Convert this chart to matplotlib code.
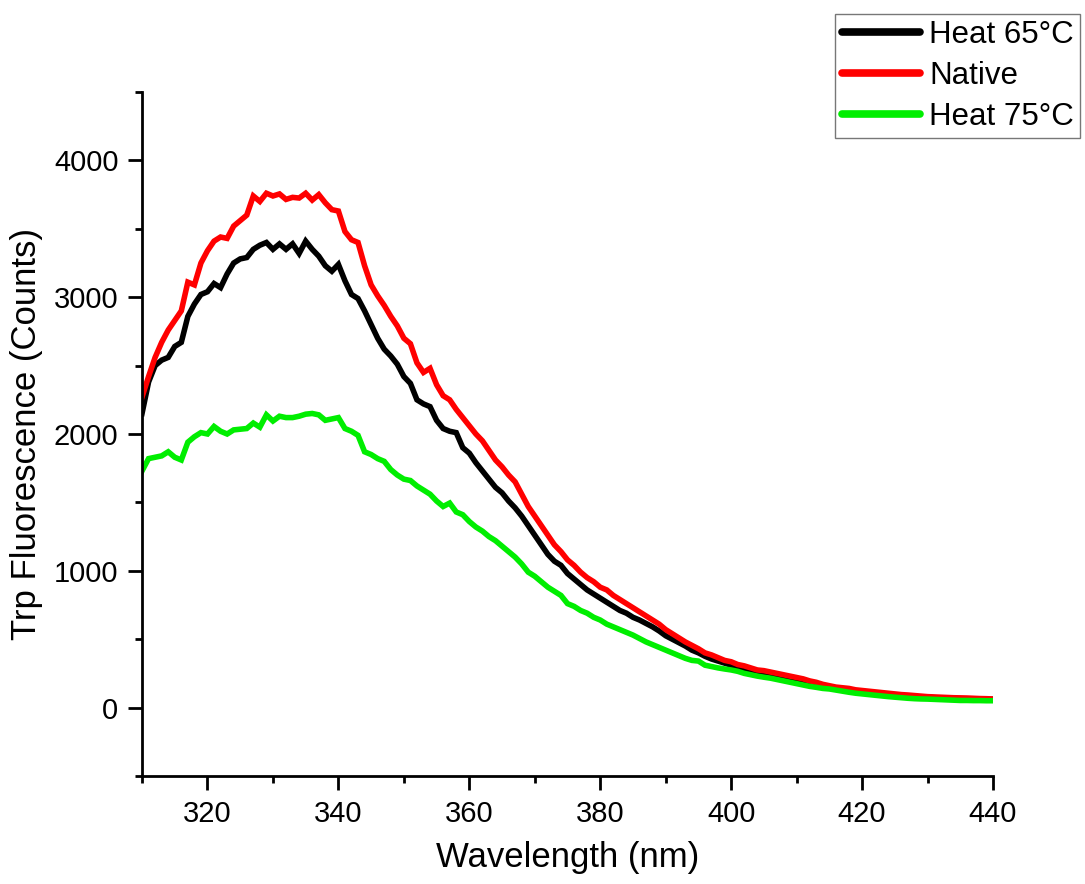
import matplotlib
matplotlib.use("Agg")
import matplotlib.pyplot as plt
from matplotlib.ticker import MultipleLocator

plt.rcParams['font.family'] = ['Liberation Sans', 'DejaVu Sans']

wavelength = list(range(310, 441))

heat65 = [2150, 2380, 2500, 2540, 2560, 2640, 2670, 2860, 2950, 3020,
          3040, 3100, 3070, 3170, 3250, 3280, 3290, 3350, 3380, 3400,
          3350, 3390, 3350, 3390, 3320, 3410, 3350, 3300, 3230, 3190,
          3240, 3120, 3020, 2990, 2900, 2800, 2700, 2620, 2570, 2510,
          2420, 2370, 2250, 2220, 2200, 2100, 2040, 2020, 2010, 1900,
          1860, 1790, 1730, 1670, 1610, 1570, 1510, 1460, 1400, 1330,
          1260, 1190, 1120, 1070, 1040, 980, 940, 900, 860, 830,
          800, 770, 740, 710, 690, 660, 640, 615, 590, 560,
          525, 500, 475, 450, 420, 400, 375, 355, 340, 325,
          310, 295, 285, 270, 260, 250, 245, 235, 225, 215,
          205, 195, 185, 170, 160, 150, 140, 135, 128, 120,
          115, 110, 105, 100, 96, 92, 88, 84, 80, 78,
          75, 72, 70, 68, 66, 65, 64, 62, 61, 60, 60]

native = [2270, 2420, 2560, 2670, 2760, 2830, 2900, 3110, 3090, 3250,
          3340, 3410, 3440, 3430, 3520, 3560, 3600, 3740, 3700, 3760,
          3740, 3755, 3715, 3730, 3725, 3760, 3710, 3750, 3690, 3640,
          3630, 3480, 3420, 3400, 3230, 3090, 3010, 2940, 2860, 2790,
          2700, 2660, 2520, 2450, 2480, 2360, 2280, 2250, 2180, 2120,
          2060, 2000, 1950, 1880, 1810, 1760, 1700, 1650, 1560, 1470,
          1400, 1330, 1260, 1190, 1140, 1080, 1040, 990, 950, 920,
          880, 860, 820, 790, 760, 730, 700, 670, 640, 610,
          570, 540, 510, 480, 455, 430, 400, 385, 365, 345,
          335, 315, 305, 290, 275, 270, 260, 250, 240, 230,
          220, 210, 195, 185, 170, 160, 150, 145, 140, 130,
          125, 120, 115, 110, 105, 100, 95, 92, 88, 84,
          80, 78, 76, 74, 72, 71, 70, 68, 66, 65, 63]

heat75 = [1730, 1820, 1830, 1840, 1870, 1830, 1810, 1940, 1980, 2010,
          2000, 2055, 2020, 2000, 2030, 2035, 2040, 2080, 2050, 2140,
          2095, 2130, 2120, 2120, 2130, 2145, 2150, 2140, 2100, 2110,
          2120, 2040, 2020, 1990, 1870, 1850, 1820, 1800, 1740, 1700,
          1670, 1660, 1620, 1590, 1560, 1510, 1470, 1495, 1430, 1410,
          1360, 1320, 1290, 1250, 1220, 1180, 1140, 1100, 1050, 990,
          960, 920, 880, 850, 820, 760, 740, 710, 690, 660,
          640, 610, 590, 570, 550, 530, 505, 480, 460, 440,
          420, 400, 380, 360, 345, 340, 310, 300, 290, 282,
          275, 265, 250, 240, 230, 222, 215, 205, 195, 185,
          175, 165, 155, 148, 140, 136, 128, 120, 112, 105,
          100, 95, 90, 85, 80, 76, 72, 68, 65, 63,
          62, 60, 58, 56, 54, 52, 52, 51, 51, 50, 50]

series_labels = ["Heat 65°C", "Native", "Heat 75°C"]
series_colors = ["#000000", "#ff0000", "#00ee00"]

fig = plt.figure(figsize=(10.85, 8.84), dpi=100)
ax = fig.add_axes([0.1309, 0.1222, 0.7843, 0.7737])

for ys, lab, col in zip([heat65, native, heat75], series_labels, series_colors):
    ax.plot(wavelength, ys, color=col, lw=4.0, label=lab, solid_joinstyle='miter')

ax.set_xlim(310, 440)
ax.set_ylim(-500, 4500)
ax.xaxis.set_minor_locator(MultipleLocator(10))
ax.yaxis.set_minor_locator(MultipleLocator(500))
ax.set_xticks([320, 340, 360, 380, 400, 420, 440])
ax.set_yticks([0, 1000, 2000, 3000, 4000])

for s in ['top', 'right']:
    ax.spines[s].set_visible(False)
for s in ['left', 'bottom']:
    ax.spines[s].set_linewidth(2)

ax.tick_params(which='major', length=10, width=2, labelsize=21, pad=7, direction='out')
ax.tick_params(which='minor', length=5, width=2, direction='out')

ax.set_xlabel("Wavelength (nm)", fontsize=25, labelpad=10)
ax.set_ylabel("Trp Fluorescence (Counts)", fontsize=25, labelpad=8)

leg = fig.legend(loc='upper right', bbox_to_anchor=(1080/1085, 1 - 14/884),
                 fontsize=22.5, frameon=True, fancybox=False, handlelength=2.5,
                 handletextpad=0.3, labelspacing=0.35, borderpad=0.2,
                 borderaxespad=0)
leg.get_frame().set_edgecolor('#555555')
leg.get_frame().set_linewidth(1.0)
for h in leg.get_lines():
    h.set_linewidth(5.5)
    h.set_solid_capstyle('round')

fig.savefig("out.png", dpi=100)
